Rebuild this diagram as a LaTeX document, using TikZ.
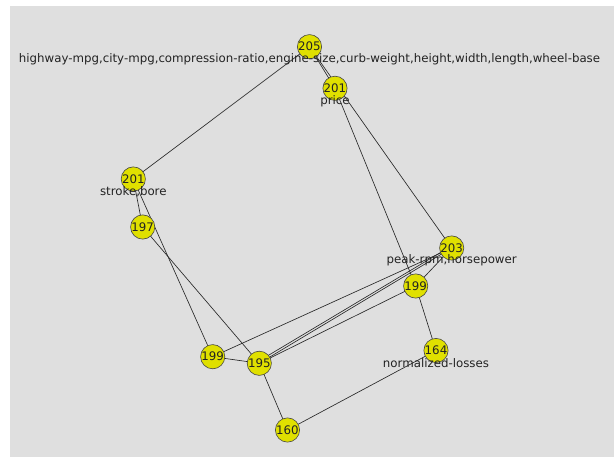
\documentclass[tikz,border=0pt]{standalone}
\usepackage{fontspec}
\setmainfont{DejaVu Sans}
\usetikzlibrary{backgrounds}
\definecolor{bggray}{RGB}{223,223,223}
\definecolor{nodeyellow}{RGB}{224,224,0}
\definecolor{edgecol}{RGB}{40,40,40}
\definecolor{rimcol}{RGB}{70,70,70}
\definecolor{txtcol}{RGB}{35,35,35}
\begin{document}
\begin{tikzpicture}[x=1pt,y=-1pt,
  vnode/.style={circle,draw=rimcol,fill=nodeyellow,line width=0.6pt,minimum size=23pt,inner sep=0pt,font=\fontsize{11.8}{12}\selectfont,text=txtcol},
  lbl/.style={font=\fontsize{11.8}{12}\selectfont,text=txtcol,inner sep=0pt},
  edge/.style={draw=edgecol,line width=0.65pt}]
\useasboundingbox (0,0) rectangle (614,457);
% nodes
\node[vnode] (n205)  at (309.5,46.7) {205};
\node[vnode] (n201p) at (335,88.3) {201};
\node[vnode] (n201s) at (133.3,179) {201};
\node[vnode] (n197)  at (142.7,227) {197};
\node[vnode] (n203)  at (451.7,248) {203};
\node[vnode] (n199r) at (415.7,286) {199};
\node[vnode] (n164)  at (436,350.5) {164};
\node[vnode] (n199l) at (212.7,356.7) {199};
\node[vnode] (n195)  at (259.3,363.3) {195};
\node[vnode] (n160)  at (287.5,430) {160};
% labels
\node[lbl] (t205)  at ([yshift=-0.5pt]n205.south) {highway-mpg,city-mpg,compression-ratio,engine-size,curb-weight,height,width,length,wheel-base};
\node[lbl] (t201p) at ([yshift=-0.5pt]n201p.south) {price};
\node[lbl] (t201s) at (n201s.south) {stroke,bore};
\node[lbl] (t203)  at (n203.south) {peak-rpm,horsepower};
\node[lbl] (t164)  at (n164.south) {normalized-losses};
% background and edges
\begin{scope}[on background layer]
\fill[bggray] (10,6) rectangle (614,457);
\draw[edge] (n205.center) -- (n201s.center);
\draw[edge] (n205.center) -- (n201p.center);
\draw[edge] (n205.center) -- (n203.center);
\draw[edge] (n201p.center) -- (n199r.center);
\draw[edge] (n201s.center) -- (n197.center);
\draw[edge] (n201s.center) -- (n199l.center);
\draw[edge] (n197.center) -- (n195.center);
\draw[edge] (n199l.center) -- (n195.center);
\draw[edge] (n199l.center) -- (n203.center);
\draw[edge] (n195.center) -- (n203.center);
\draw[edge] ([yshift=2.5pt]n195.center) -- ([xshift=-2pt,yshift=1pt]n203.center);
\draw[edge] (n195.center) -- (n199r.center);
\draw[edge] (n203.center) -- (n199r.center);
\draw[edge] (n199r.center) -- (n164.center);
\draw[edge] (n164.center) -- (n160.center);
\draw[edge] (n195.center) -- (n160.center);
\end{scope}
\end{tikzpicture}
\end{document}
